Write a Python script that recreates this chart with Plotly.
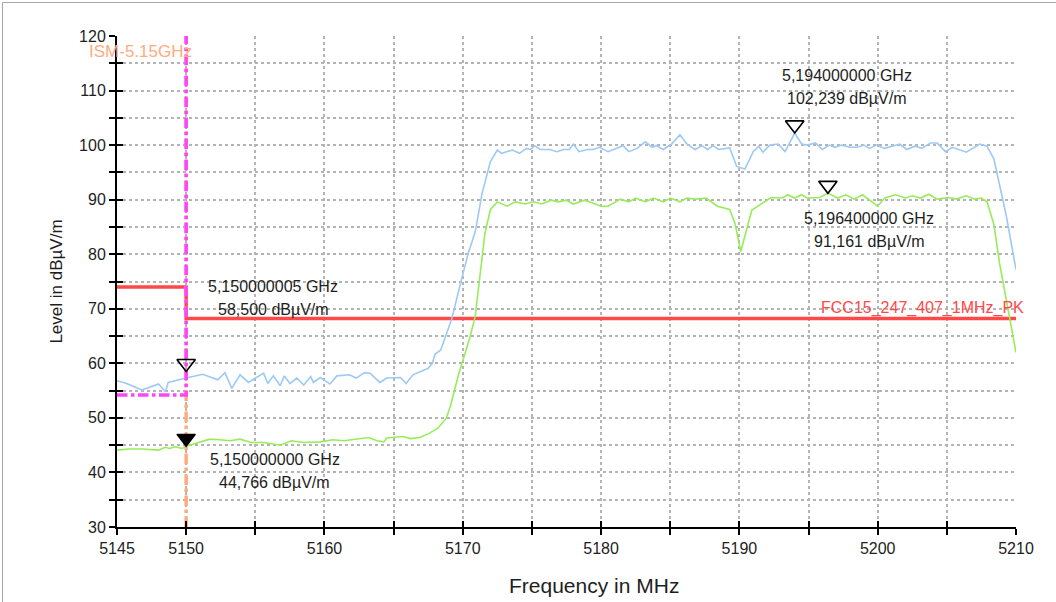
import plotly.graph_objects as go

# ---------------- data ----------------
blue_f = [5145.0, 5145.7, 5146.8, 5148.0, 5148.5, 5148.7, 5150.0, 5151.2, 5152.3, 5152.8,
          5153.3, 5153.9, 5154.5, 5155.6, 5155.9, 5156.3, 5156.8, 5157.1, 5157.5, 5158.0,
          5158.5, 5159.0, 5159.2, 5159.7, 5160.4, 5160.9, 5161.8, 5162.3, 5162.9, 5163.3,
          5164.0, 5164.5, 5165.5, 5165.9, 5166.4, 5167.1, 5167.5, 5167.8, 5168.0, 5168.4,
          5168.7, 5169.2, 5169.9, 5170.4, 5170.9, 5171.4, 5172.0, 5172.5, 5172.8, 5173.6,
          5174.1, 5174.6, 5174.9, 5175.2, 5175.6, 5176.3, 5176.8, 5177.3, 5177.7, 5178.0,
          5178.4, 5179.0, 5179.4, 5179.9, 5180.5, 5181.1, 5181.6, 5182.0, 5182.6, 5183.2,
          5183.7, 5184.0, 5184.5, 5185.1, 5185.7, 5186.2, 5186.8, 5187.3, 5187.7, 5188.1,
          5188.5, 5189.3, 5189.8, 5190.4, 5191.0, 5191.4, 5191.7, 5192.2, 5192.8, 5193.3,
          5194.0, 5194.5, 5194.9, 5195.5, 5196.0, 5196.5, 5196.9, 5197.4, 5198.0, 5198.5,
          5199.0, 5199.4, 5199.9, 5200.5, 5201.0, 5201.6, 5202.1, 5202.7, 5203.2, 5203.8,
          5204.3, 5204.9, 5205.4, 5206.4, 5207.4, 5207.9, 5208.4, 5208.8, 5209.3, 5210.0]
blue_v = [56.8, 56.3, 55.1, 56.2, 54.8, 56.5, 57.3, 58.0, 57.0, 58.3,
          55.4, 57.9, 56.5, 58.2, 56.3, 57.7, 55.9, 57.7, 56.3, 57.3,
          56.0, 57.6, 56.5, 57.4, 56.2, 57.7, 57.9, 57.3, 58.3, 58.2,
          56.5, 57.3, 57.4, 56.3, 57.9, 58.7, 59.1, 60.0, 61.7, 62.4,
          64.6, 68.1, 75.3, 80.2, 84.1, 91.2, 97.0, 99.1, 98.5, 99.1,
          98.5, 99.4, 99.2, 99.9, 99.2, 99.2, 98.8, 99.2, 99.2, 100.2,
          98.8, 99.2, 99.2, 99.6, 98.8, 99.4, 99.9, 98.8, 99.4, 100.6,
          99.6, 99.9, 99.2, 100.2, 101.9, 100.2, 99.2, 99.9, 99.2, 99.9,
          99.2, 99.5, 96.1, 95.6, 98.8, 99.8, 98.7, 100.0, 100.2, 98.8,
          102.2, 100.2, 100.0, 100.4, 99.2, 100.0, 99.6, 100.0, 99.6, 99.6,
          100.0, 99.4, 100.0, 99.4, 99.8, 100.2, 99.2, 99.8, 99.4, 100.4,
          100.4, 98.8, 99.6, 98.7, 100.2, 99.8, 97.5, 93.0, 87.0, 77.2]

green_f = [5145.0, 5145.9, 5146.8, 5148.0, 5148.5, 5148.8, 5149.2, 5149.7, 5150.0, 5151.0,
           5151.7, 5152.4, 5153.2, 5153.9, 5154.7, 5155.6, 5156.8, 5157.6, 5158.5, 5159.7,
           5160.6, 5161.4, 5162.3, 5163.2, 5163.8, 5164.3, 5164.5, 5165.2, 5165.7, 5166.2,
           5166.9, 5167.6, 5168.2, 5168.8, 5169.1, 5169.7, 5170.5, 5170.9, 5171.2, 5171.4,
           5171.6, 5172.0, 5172.5, 5173.2, 5173.8, 5174.5, 5175.1, 5175.7, 5176.4, 5176.9,
           5177.5, 5178.0, 5178.8, 5179.4, 5180.0, 5180.5, 5181.4, 5182.0, 5182.5, 5183.2,
           5183.8, 5184.5, 5185.0, 5185.7, 5186.2, 5186.8, 5187.6, 5188.4, 5189.3, 5189.7,
           5190.1, 5190.9, 5192.3, 5193.1, 5193.5, 5194.0, 5194.5, 5194.9, 5195.8, 5196.4,
           5197.1, 5197.7, 5198.3, 5198.9, 5200.0, 5200.5, 5201.3, 5202.0, 5202.5, 5203.1,
           5203.7, 5204.3, 5205.1, 5205.7, 5206.4, 5207.0, 5207.5, 5207.9, 5208.4, 5208.8,
           5209.1, 5209.6, 5210.0]
green_v = [44.1, 44.3, 44.3, 44.1, 44.6, 44.4, 44.7, 44.4, 44.8, 45.6,
           46.1, 46.0, 45.8, 46.1, 45.5, 45.5, 45.0, 45.8, 45.5, 45.6,
           46.0, 45.8, 46.1, 46.4, 45.8, 45.6, 46.3, 46.4, 46.6, 46.2,
           46.4, 47.2, 48.1, 49.9, 52.1, 58.0, 64.6, 68.6, 75.3, 79.5,
           83.8, 88.2, 89.6, 88.8, 89.6, 89.2, 89.6, 89.2, 89.9, 89.6,
           89.9, 89.2, 89.9, 89.4, 88.8, 88.8, 90.1, 89.6, 90.3, 89.6,
           90.3, 89.6, 90.3, 89.6, 90.3, 90.1, 90.3, 88.8, 88.2, 85.5,
           80.5, 88.1, 90.4, 90.3, 90.9, 90.3, 90.9, 90.3, 90.4, 91.2,
           90.3, 90.9, 90.1, 90.9, 88.8, 90.3, 90.9, 90.3, 90.7, 90.3,
           91.0, 90.1, 90.4, 90.1, 90.7, 90.1, 90.3, 89.6, 85.5, 78.5,
           74.5, 68.0, 62.0]

limit_f = [5145, 5150, 5150, 5210]
limit_v = [74.0, 74.0, 68.2, 68.2]
limit_name = "FCC15_247_407_1MHz_PK"

mag_f = [5145, 5150, 5150]
mag_v = [54.2, 54.2, 120]

ism_f = [5150, 5150]
ism_v = [30, 120]
ism_name = "ISM-5.15GHz"

mk_open_f = [5150.0, 5194.0, 5196.4]
mk_open_v = [58.5, 102.239, 91.161]
mk_fill_f = [5150.0]
mk_fill_v = [44.766]

mk_labels = [
    ("5,150000005 GHz", "58,500 dBµV/m", 5156.3, 74.0, 69.8),
    ("5,150000000 GHz", "44,766 dBµV/m", 5156.4, 42.3, 38.1),
    ("5,194000000 GHz", "102,239 dBµV/m", 5197.8, 112.7, 108.6),
    ("5,196400000 GHz", "91,161 dBµV/m", 5199.4, 86.6, 82.4),
]

x_title = "Frequency in MHz"
y_title = "Level in dBµV/m"
x_ticks = list(range(5145, 5211, 5))
x_labels = ["5145", "5150", "", "5160", "", "5170", "", "5180", "", "5190", "", "5200", "", "5210"]
y_ticks = list(range(30, 121, 5))
y_labels = [str(v) if v % 10 == 0 else "" for v in y_ticks]

# ---------------- layout constants ----------------
W, H = 1056, 602
ML, MR, MT, MB = 117, 40, 36, 75
XR = [5145, 5210]
YR = [30, 120]
FONT = "Liberation Sans, Arial, sans-serif"
TXT = "#1e1e1e"

pw = W - ML - MR
ph = H - MT - MB
db_per_px = (YR[1] - YR[0]) / ph
msize = 16
tip_off = (msize / 2) * db_per_px  # triangle tip sits on the value

fig = go.Figure()

fig.add_trace(go.Scatter(x=limit_f, y=limit_v, mode="lines",
                         line=dict(color="#ff4848", width=3.5), hoverinfo="skip"))
fig.add_trace(go.Scatter(x=blue_f, y=blue_v, mode="lines",
                         line=dict(color="#9cc9f5", width=1.6)))
fig.add_trace(go.Scatter(x=green_f, y=green_v, mode="lines",
                         line=dict(color="#98ec5a", width=1.6)))
fig.add_trace(go.Scatter(x=ism_f, y=ism_v, mode="lines",
                         line=dict(color="#ffab80", width=3.5, dash="dashdot")))
fig.add_trace(go.Scatter(x=mag_f, y=mag_v, mode="lines",
                         line=dict(color="#ff44ff", width=3.5, dash="dashdot")))
fig.add_trace(go.Scatter(x=mk_open_f, y=[v + tip_off for v in mk_open_v], mode="markers",
                         marker=dict(symbol="triangle-down-open", size=msize,
                                     color="#000000", line=dict(width=1.6, color="#000000"))))
fig.add_trace(go.Scatter(x=mk_fill_f, y=[v + tip_off for v in mk_fill_v], mode="markers",
                         marker=dict(symbol="triangle-down", size=msize,
                                     color="#000000", line=dict(width=1.2, color="#000000"))))
# empty trace for the overlay axes (inner halves of the cross ticks)
fig.add_trace(go.Scatter(x=[], y=[], xaxis="x2", yaxis="y2", mode="lines"))

annotations = []
for l1, l2, xc, y1, y2 in mk_labels:
    annotations.append(dict(x=xc, y=y1, text=l1, showarrow=False, xanchor="center", yanchor="middle",
                            font=dict(family=FONT, size=16, color=TXT)))
    annotations.append(dict(x=xc, y=y2, text=l2, showarrow=False, xanchor="center", yanchor="middle",
                            font=dict(family=FONT, size=16, color=TXT)))
annotations.append(dict(x=XR[1], y=limit_v[-1], text=limit_name, showarrow=False,
                        xanchor="right", yanchor="bottom", xshift=10, yshift=0,
                        font=dict(family=FONT, size=16, color="#ff4848")))
annotations.append(dict(x=ism_f[0], y=YR[1], text=ism_name, showarrow=False,
                        xanchor="right", yanchor="top", xshift=8, yshift=-4,
                        font=dict(family=FONT, size=17, color="#ffab80")))
annotations.append(dict(xref="paper", yref="paper", x=(594 - ML) / pw, y=0,
                        yshift=-(585 - (H - MB)), text=x_title, showarrow=False,
                        xanchor="center", yanchor="middle",
                        font=dict(family=FONT, size=21, color=TXT)))

grid = dict(showgrid=True, gridcolor="#b4b4b4", gridwidth=1.5, griddash="dot")

fig.update_layout(
    width=W, height=H,
    margin=dict(l=ML, r=MR, t=MT, b=MB),
    paper_bgcolor="white", plot_bgcolor="white",
    showlegend=False,
    font=dict(family=FONT, size=15, color=TXT),
    annotations=annotations,
    xaxis=dict(range=XR, tickmode="array", tickvals=x_ticks, ticktext=x_labels,
               ticks="outside", ticklen=6, tickwidth=2, tickcolor="#000",
               showline=True, linecolor="#000", linewidth=2, zeroline=False,
               tickfont=dict(family=FONT, size=16, color=TXT),
               **grid),
    yaxis=dict(range=YR, tickmode="array", tickvals=y_ticks, ticktext=y_labels,
               ticks="outside", ticklen=6, tickwidth=2, tickcolor="#000",
               showline=True, linecolor="#000", linewidth=2, zeroline=False,
               tickfont=dict(family=FONT, size=16, color=TXT),
               title=dict(text=y_title, font=dict(family=FONT, size=17, color=TXT), standoff=12),
               **grid),
    xaxis2=dict(range=XR, overlaying="x", anchor="y", side="bottom", tickmode="array",
                tickvals=x_ticks, ticks="inside", ticklen=6, tickwidth=2, tickcolor="#000",
                showticklabels=False, showgrid=False, zeroline=False, showline=False),
    yaxis2=dict(range=YR, overlaying="y", anchor="x", side="left", tickmode="array",
                tickvals=y_ticks, ticks="inside", ticklen=6, tickwidth=2, tickcolor="#000",
                showticklabels=False, showgrid=False, zeroline=False, showline=False),
    shapes=[
        dict(type="rect", xref="paper", yref="paper",
             x0=(2.5 - ML) / pw, x1=1.3,
             y0=-0.4, y1=1 + (MT - 2.5) / ph,
             line=dict(color="#a6a6a6", width=1), fillcolor="rgba(0,0,0,0)", layer="below"),
    ],
)

fig.write_html("out.html",
               config={"displayModeBar": False},
               post_script="document.body.style.margin='0px';document.body.style.overflow='hidden';")
